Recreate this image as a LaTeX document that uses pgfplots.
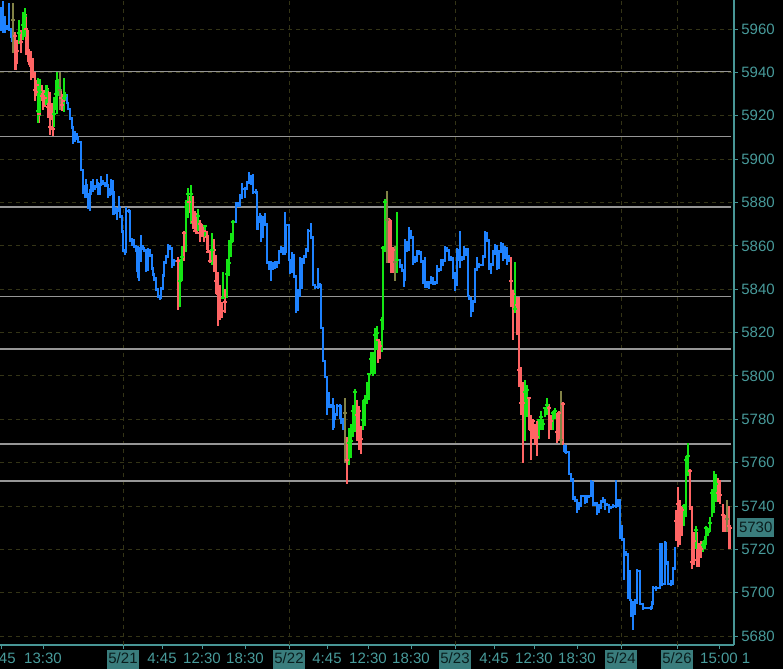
\documentclass[border=0pt]{standalone}
\usepackage{pgfplots}
\pgfplotsset{compat=1.18}
\usepackage{pgfplotstable}
\usepackage{fontspec}
\setmainfont{Liberation Sans}
\definecolor{tealtxt}{RGB}{72,155,155}
\definecolor{tealaxis}{RGB}{72,150,150}
\definecolor{tbox}{RGB}{58,125,125}
\definecolor{tdark}{RGB}{10,30,30}
\definecolor{gridc}{RGB}{52,52,22}
\definecolor{lvl}{RGB}{150,150,150}
\definecolor{cblue}{RGB}{30,130,255}
\definecolor{cgreen}{RGB}{20,230,20}
\definecolor{cred}{RGB}{255,100,100}
\definecolor{colive}{RGB}{130,130,70}
\newcommand\dbox[1]{{\setlength{\fboxsep}{0.8pt}\colorbox{tbox}{\textcolor{tdark}{\strut#1}}}}

% blue (quiet) bars: x close low high
\pgfplotstableread{
x c l h
1 5962 5959 5970
3 5964 5958 5973
5 5960 5958 5966
7 5961 5960 5962
9 5960 5959 5972
11 5957 5956 5960
12 5955 5954 5957
}\blueA
\pgfplotstableread{
x c l h
66 5929.5 5929.5 5929.5
67 5926 5926 5930
68 5923 5923 5926
70 5919 5918 5922
72 5915 5914 5919
73 5912 5907 5915
75 5911 5908 5913
77 5910 5909 5912
78 5908 5908 5910
80 5908 5908 5908
81 5895 5895 5908
83 5885 5884 5895
85 5886 5882 5888
86 5888 5886 5891
87 5884 5882 5886
88 5880 5877 5884
90 5884 5876 5886
91 5889 5888 5890
93 5886 5885 5891
95 5887 5886 5888
97 5889 5888 5891
98 5884 5884 5886
100 5888 5887 5889
101 5890 5889 5892
103 5889 5888 5890
105 5888 5887 5889
107 5888 5887 5893
108 5886 5882 5888
110 5884 5883 5886
111 5890 5889 5891
113 5885 5874 5886
114 5875 5874 5876
116 5877 5876 5878
117 5876 5872 5877
119 5878 5876 5883
120 5874 5873 5875
122 5867 5866 5868
123 5858 5857 5863
125 5857 5856 5858
126 5876 5858 5878
129 5876 5875 5877
130 5863 5862 5864
132 5861 5860 5862
134 5860 5859 5863
136 5858 5857 5859
137 5849 5848 5850
138 5859 5845 5860
139 5853 5844 5854
141 5860 5859 5865
143 5859 5858 5860
144 5858 5857 5859
146 5849 5848 5850
148 5858 5857 5859
150 5856 5855 5857
152 5850 5849 5851
153 5847 5846 5848
154 5845 5844 5846
156 5840 5839 5841
158 5837 5836 5838
160 5836 5835 5837
161 5840 5839 5841
163 5846 5845 5847
164 5852 5851 5853
166 5855 5854 5856
168 5860 5859 5861
170 5859 5858 5860
172 5851 5850 5852
174 5853 5852 5854
176 5853 5853 5853
}\blueB
\pgfplotstableread{
x c l h
234 5871 5871 5871
236 5879 5871 5880
238 5879 5878 5880
240 5882 5878 5884
242 5886 5885 5889
245 5886 5882 5887
247 5889 5886 5890
249 5892 5889 5894
251 5890 5888 5891
253 5885 5884 5893
256 5885 5884 5886
257 5868 5868 5885
258 5871 5870 5874
260 5874 5873 5875
261 5864 5862 5866
263 5872 5865 5874
265 5870 5869 5875
267 5852 5852 5869
269 5850 5849 5853
271 5852 5844 5853
273 5850 5849 5852
275 5852 5851 5853
277 5852 5850 5853
279 5857 5856 5858
281 5859 5858 5860
283 5857 5856 5858
285 5857 5856 5875.6
286 5869.6 5869 5870
288 5869.6 5869 5870
289 5853.4 5853 5855
290 5848 5847 5850
292 5856 5855 5857
294 5846 5845 5856
296 5836.5 5829 5840
298 5837 5830 5840
300 5854 5853 5855
302 5852 5840 5854
304 5855 5854 5856
306 5858 5856 5859
308 5867 5857 5868
311 5864 5863 5870.5
313 5842 5842 5864
315 5841 5840 5842
318 5841 5840 5849.7
320 5842 5841 5843
321 5822 5822 5842
323 5807 5807 5822
325 5799.5 5799 5807
327 5786 5782 5799.5
329 5786 5785 5792.5
331 5786 5785 5787
333 5786 5775 5790
334 5780 5776 5782
335 5782 5781 5783
337 5786 5785 5787
340 5786 5780 5787
341 5780 5778 5786
343 5776 5775 5780
344 5776 5776 5776
}\blueC
\pgfplotstableread{
x c l h
398 5853.4 5853 5854
400 5851 5850 5853
402 5849 5848 5851
404 5846 5841 5848
405 5862 5844 5863
407 5858 5857 5859
409 5867 5866 5868.6
411 5864 5863 5865
413 5855 5851 5856
415 5853 5852 5854
417 5857 5855 5858
419 5857 5856 5858
421 5853 5852 5854
423 5843 5843 5846
425 5841 5841 5855
427 5843 5842 5844
429 5843 5840 5844
431 5845 5844 5846
433 5843 5842 5845
435 5843 5842 5844
437 5849 5848 5851
439 5849 5848 5850
441 5851 5850 5854
443 5853 5851 5854
445 5859 5858 5860
447 5858 5857 5859
449 5855 5853 5857
451 5854 5853 5855
453 5845 5845 5855
455 5842 5839 5848
457 5858 5843 5859
459 5854 5853 5855
460 5855 5850 5867
462 5854 5853 5855
464 5856 5855 5860
466 5858.5 5858 5859
468 5837 5837 5858.5
469 5836 5835 5837
471 5830 5827 5834
473 5834 5833 5835
475 5849 5835 5850
477 5851 5849 5855
479 5851 5850 5852
483 5855 5851 5856
485 5866 5856 5867
487 5862.7 5862 5864
489 5850 5849 5862
491 5851 5847 5852
493 5857 5851 5858
495 5860 5856 5861
497 5849.8 5849 5851
499 5857 5856 5858
501 5861 5860 5862
503 5855 5853 5856
505 5859 5854 5860
507 5853 5851 5854
509 5855 5853 5856
510 5855 5855 5855
}\blueD
\pgfplotstableread{
x c l h
564 5765 5765 5768.6
566 5765 5764 5768
569 5755 5755 5765
571 5752 5751 5755
573 5744 5743 5753
575 5743 5742 5744
577 5739 5737 5743
579 5740 5738 5742
581 5744.6 5740 5745
583 5744.6 5744 5745
585 5741.8 5741 5743
587 5744 5743 5745
589 5744.6 5744 5745
591 5751 5750 5752
593 5740.5 5740 5751
595 5741.3 5740 5742
597 5738 5736 5741
599 5739 5737 5741
601 5742 5741 5743
603 5743 5742 5744
605 5741 5738 5743
607 5740.5 5740 5741
609 5739 5737 5740
611 5739.5 5739 5740
613 5740 5739 5741
616 5740 5739 5752
618 5742.7 5742 5743
620 5731 5725 5743
622 5725 5724 5731
624 5718.7 5706 5720
626 5718 5717 5719
628 5710 5697 5718
630 5696.6 5696 5701
631 5690 5689 5697
633 5690 5682.8 5696
635 5696.6 5696 5697
637 5710 5695 5711
640 5695 5695 5710
643 5693 5692 5694
651 5693 5692 5694
652 5695 5694 5696
653 5702 5701 5703
656 5702 5701 5703
660 5722.5 5702 5723
662 5704 5703 5722
665 5723 5722 5724
666 5714 5713 5723
668 5704 5704 5714
671 5704 5703 5706
673 5711 5710 5712
675 5720 5711 5721
676 5720 5720 5720
}\blueE
% active bars: x low high close kind (0 down, 1 up, 2 neutral)
\pgfplotstableread{
x l h c k
13 5949 5972 5964 2
15 5941 5958.6 5957 0
16 5941 5948 5946 0
17 5944 5955 5950 0
19 5953 5964 5958 1
21 5949 5959.5 5954 0
23 5955 5968 5962 1
25 5956.3 5969.7 5966 1
26 5948 5967 5960 0
28 5945 5959.5 5950 0
29 5943.4 5951 5947 0
31 5936.5 5950 5943 0
33 5937.4 5946.6 5938 0
35 5927 5940 5932 0
36 5929 5936.5 5931 0
37 5930 5936 5934 0
38 5916.6 5937.4 5922 1
39 5916.6 5932 5921 0
40 5920 5937 5931 1
42 5927 5934 5929 0
43 5922.6 5932 5929 0
45 5924 5932 5928 0
46 5925 5934 5930 1
47 5926 5934 5932 1
48 5918.9 5932.8 5924 0
50 5911 5931 5915 0
52 5918 5926 5921 0
53 5910.6 5926 5914 0
54 5915 5928.6 5921 1
56 5922.6 5936.5 5930 1
57 5921 5940 5935 1
59 5929 5937 5933 1
60 5922.6 5940 5932 2
61 5924 5932 5928 0
62 5922 5930 5925 0
63 5924 5929 5927 0
64 5921.7 5937.4 5928 1
65 5927 5931 5929 1
178 5830.4 5855 5853 0
180 5832 5854 5844 1
182 5844 5860 5855 1
184 5853 5867 5866 0
186 5857 5881 5878 1
188 5873 5886.6 5884 1
189 5875 5883 5880 0
191 5870 5888 5884 1
193 5868 5883 5871 0
195 5867 5876 5867 0
197 5866 5875 5866 0
198 5867 5877 5874 1
200 5862 5872 5870 0
202 5864 5870 5868 0
204 5862 5869 5867 0
205 5864 5869 5869 1
207 5858 5867 5864 0
208 5857 5865 5857 0
210 5852 5858 5853 0
212 5851 5866 5858 1
214 5848 5863 5858 0
216 5838 5856 5844 0
218 5823 5848 5838 0
220 5826 5842 5830 0
222 5826.5 5834 5830 0
223 5836 5848 5836 1
225 5829 5840 5834 0
227 5836 5854 5847 1
229 5846 5862.7 5852 1
231 5855 5866 5862 1
233 5862 5872 5871 1
345 5760 5789.8 5783 2
347 5750 5771.8 5761 0
349 5759 5776 5769 1
351 5762 5778 5770 1
353 5771.8 5786.5 5784 1
355 5774 5794 5792.6 1
357 5770 5789 5782 0
359 5766 5786 5784 0
361 5764 5777 5771 0
363 5775 5789 5779.6 1
365 5777 5791 5789 1
367 5787 5797 5790 1
369 5789 5801 5801 1
371 5801 5811 5808 1
373 5800 5811 5807 1
375 5801 5822 5818.8 1
377 5812 5823 5820 1
378 5806 5816.5 5816.5 0
380 5808 5816 5814 0
382 5811 5827 5826 1
383 5821 5860 5859 1
385 5857 5881.6 5880 1
387 5852 5885.3 5872 2
389 5852 5873 5872 0
391 5847.5 5872 5856 0
393 5847.5 5859.4 5858 0
395 5844 5860 5852.5 2
397 5847.5 5875.6 5853.4 1
511 5832 5855 5844 0
513 5816.5 5839.6 5837.8 0
515 5829 5852.5 5831 1
517 5819 5836.5 5832.7 0
519 5794.8 5836.5 5802.7 0
521 5782 5804 5787.5 0
523 5760 5797 5787.5 0
525 5770 5798 5792.5 1
527 5781 5796 5793.5 1
529 5775 5790 5790 0
531 5761 5782 5775 0
533 5771 5780 5779 0
535 5768 5778 5774 0
537 5763 5779 5772 0
539 5771 5780 5779.6 1
541 5775 5784 5781 1
543 5775 5780 5778 1
545 5781 5785.5 5785 1
547 5782 5789.8 5786.6 1
549 5771 5787 5785 0
551 5775 5782 5779 0
553 5775 5784 5783 1
555 5780 5785 5784 1
557 5769 5783 5774 0
559 5770 5784 5783 0
561 5768 5793 5770.4 2
563 5768 5788 5787 0
676 5724 5738 5733 0
678 5721 5749 5741 0
680 5722 5743 5736 0
682 5726 5740 5738 0
684 5731 5741 5740 1
686 5735 5763 5761 1
688 5754 5769 5763 1
690 5738 5757 5756 0
692 5711 5740 5714 0
694 5713 5728 5724 0
696 5720 5731 5729 1
697 5712 5728 5715 0
699 5712 5723 5719 0
701 5716 5724 5720 0
703 5719 5724 5722 1
705 5720 5726 5724 1
706 5722 5731 5730 1
708 5726 5730 5728 1
710 5728 5735 5732 1
712 5735 5748 5746 1
714 5737 5756 5744 1
716 5742 5755 5750 1
718 5742 5753 5746 0
720 5741 5752 5745 0
723 5728 5741 5736 0
725 5728 5736 5734 0
727 5728 5743 5734 2
729 5720 5740 5731 0
730 5720 5731 5730 0
}\bars

\newcommand\bluseg[1]{%
\addplot[const plot, cblue, line width=1pt, mark=none] table[x=x,y=c]{#1};
\addplot[only marks, mark=*, mark size=0pt, mark options={draw=none, fill=none}, cblue, error bars/.cd, y dir=both, y explicit, error mark=none, error bar style={line width=0.8pt, cblue}]
  table[x=x,y=c,y error plus expr=\thisrow{h}-\thisrow{c},y error minus expr=\thisrow{c}-\thisrow{l}]{#1};
}
\newcommand\barset[2]{%
\addplot[only marks, mark=-, mark size=0.9pt, mark options={line width=1pt, #2}, #2,
  restrict expr to domain={\thisrow{k}}{#1:#1},
  error bars/.cd, y dir=both, y explicit, error mark=none, error bar style={line width=0.75pt, #2}]
  table[x=x,y=c,y error plus expr=\thisrow{h}-\thisrow{c},y error minus expr=\thisrow{c}-\thisrow{l}]{\bars};
}

\begin{document}
\begin{tikzpicture}
\fill[black] (0,-12pt) rectangle (391.5pt,322.5pt);
\useasboundingbox (0,-12pt) rectangle (391.5pt,322.5pt);
\begin{axis}[
  at={(0,0)}, anchor=south west,
  scale only axis, width=367pt, height=322.5pt,
  xmin=0, xmax=734, ymin=5675.9, ymax=5973.4,
  axis x line*=bottom, axis y line*=right,
  axis line style={tealaxis, line width=0.6pt},
  clip=false,
  tick align=outside, major tick length=2pt,
  tick style={tealaxis, line width=0.5pt},
  ytick={5680,5700,...,5960},
  ymajorgrids,
  grid style={gridc, dash pattern=on 2pt off 2pt, line width=0.5pt},
  yticklabel style={font=\fontsize{7.5}{9}\selectfont, text=tealtxt, anchor=west, inner sep=0pt, xshift=1.5pt},
  xtick={1,43,123,162,202,245,289,327,368,411,455,494,534,577,621,677,719},
  xticklabels={4:45,13:30,\dbox{5/21},4:45,12:30,18:30,\dbox{5/22},4:45,12:30,18:30,\dbox{5/23},4:45,12:30,18:30,\dbox{5/24},\dbox{5/26},15:00},
  xticklabel style={font=\fontsize{7.5}{9}\selectfont, text=tealtxt, anchor=base, inner sep=0pt, yshift=-7.5pt},
  /pgf/number format/assume math mode=true,
  /pgf/number format/1000 sep={},
]
\foreach \xx in {123,289,455,621,677}{
  \edef\tmp{\noexpand\draw[gridc, dash pattern=on 2pt off 2pt, line width=0.5pt] (axis cs:\xx,5675.9) -- (axis cs:\xx,5973.4);}\tmp
}
\foreach \yy in {5940.5,5910.6,5877.9,5836.8,5812.4,5768.6,5751.5}{
  \edef\tmp{\noexpand\draw[lvl, line width=0.6pt] (axis cs:0,\yy) -- (axis cs:731,\yy);}\tmp
}
\bluseg{\blueA}
\bluseg{\blueB}
\bluseg{\blueC}
\bluseg{\blueD}
\bluseg{\blueE}
\barset{0}{cred}
\barset{1}{cgreen}
\barset{2}{colive}
\coordinate (rb) at (rel axis cs:1,0);
\coordinate (p30) at (axis cs:0,5730);
\coordinate (x1) at (axis cs:746,5675.9);
\node[fill=tbox, text=tdark, anchor=west, inner xsep=0.8pt, inner ysep=0pt, minimum height=9.5pt, xshift=1.5pt, font=\fontsize{7.5}{9}\selectfont]
  at (rb |- p30) {5730};
\node[text=tealtxt, anchor=base, inner sep=0pt, yshift=-9.5pt, font=\fontsize{7.5}{9}\selectfont]
  at (x1) {1};
\end{axis}
\end{tikzpicture}
\end{document}
